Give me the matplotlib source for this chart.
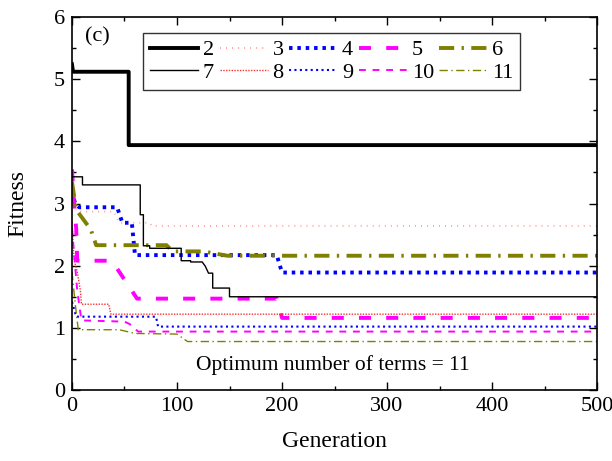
import matplotlib
matplotlib.use("Agg")
import matplotlib.pyplot as plt
from matplotlib.ticker import MultipleLocator

plt.rcParams['font.family'] = ['Liberation Serif', 'DejaVu Serif']
plt.rcParams['mathtext.fontset'] = 'stix'

labels = ['2', '3', '4', '5', '6', '7', '8', '9', '10', '11']

gen_2 = [0, 1, 54, 54, 500]
fit_2 = [5.24, 5.12, 5.12, 3.94, 3.94]

gen_3 = [0, 5, 40, 45, 74, 76, 500]
fit_3 = [3.3, 2.87, 2.87, 2.69, 2.69, 2.64, 2.64]

gen_4 = [0, 3, 7, 43, 48, 57, 60, 195, 200, 500]
fit_4 = [3.2, 3.0, 2.94, 2.94, 2.69, 2.69, 2.17, 2.17, 1.89, 1.89]

gen_5 = [0, 2, 4, 5, 38, 62, 195, 200, 500]
fit_5 = [3.55, 3.0, 2.6, 2.08, 2.08, 1.47, 1.47, 1.16, 1.16]

gen_6 = [0, 4, 18, 23, 90, 96, 125, 148, 500]
fit_6 = [3.35, 2.9, 2.58, 2.33, 2.33, 2.23, 2.23, 2.16, 2.16]

gen_7 = [0, 10, 10, 65, 65, 68, 68, 74, 74, 104, 104, 113, 113, 124, 127, 130, 134, 134, 150, 150, 500]
fit_7 = [3.43, 3.43, 3.30, 3.30, 2.82, 2.82, 2.32, 2.32, 2.28, 2.28, 2.08, 2.08, 2.06, 2.06, 1.99, 1.88, 1.88, 1.64, 1.64, 1.50, 1.50]

gen_8 = [0, 2, 5, 8, 9, 35, 37, 500]
fit_8 = [2.7, 2.1, 1.9, 1.6, 1.38, 1.38, 1.22, 1.22]

gen_9 = [0, 4, 80, 82, 500]
fit_9 = [1.42, 1.18, 1.18, 1.02, 1.02]

gen_10 = [0, 5, 9, 50, 55, 63, 500]
fit_10 = [2.6, 1.6, 1.12, 1.10, 1.06, 0.94, 0.94]

gen_11 = [0, 3, 6, 45, 60, 100, 110, 500]
fit_11 = [1.9, 1.4, 0.97, 0.97, 0.91, 0.90, 0.78, 0.78]

series = [
    (gen_2, fit_2, dict(color='black', lw=2.8, ls='-')),
    (gen_3, fit_3, dict(color='#ffa0a0', lw=1.4, ls=(0, (0.5, 2.6)))),
    (gen_4, fit_4, dict(color='#0000ff', lw=2.8, ls=(0, (0.9, 1.25)))),
    (gen_5, fit_5, dict(color='#ff00ff', lw=2.8, ls=(0, (3.1, 3.9)))),
    (gen_6, fit_6, dict(color='#808000', lw=2.8, ls=(0, (3.9, 1.9, 0.6, 1.9)))),
    (gen_7, fit_7, dict(color='black', lw=1.0, ls='-')),
    (gen_8, fit_8, dict(color='#ff3030', lw=1.0, ls=(0, (1, 1)))),
    (gen_9, fit_9, dict(color='#0000ff', lw=1.5, ls=(0, (1, 1.6)))),
    (gen_10, fit_10, dict(color='#ff00ff', lw=1.4, ls=(0, (3.5, 3.5)))),
    (gen_11, fit_11, dict(color='#808000', lw=1.0, ls=(0, (6, 2.5, 1, 2.5)))),
]

fig = plt.figure(figsize=(6.12, 4.61), dpi=100)
ax = fig.add_axes([0.1176, 0.154, 0.858, 0.809])

handles = []
for (g, f, st), lab in zip(series, labels):
    h, = ax.plot(g, f, label=lab, **st)
    handles.append(h)

ax.set_xlim(0, 500)
ax.set_ylim(0, 6)
ax.xaxis.set_major_locator(MultipleLocator(100))
ax.xaxis.set_minor_locator(MultipleLocator(50))
ax.yaxis.set_major_locator(MultipleLocator(1))
ax.yaxis.set_minor_locator(MultipleLocator(0.5))
ax.tick_params(which='both', direction='in', top=True, right=True, labelsize=16, width=1)
ax.tick_params(which='major', length=6, pad=5)
ax.tick_params(which='minor', length=3)
for s in ax.spines.values():
    s.set_linewidth(1.2)

ax.set_xlabel('Generation', fontsize=17)
ax.set_ylabel('Fitness', fontsize=17)
ax.xaxis.set_label_coords(0.5, -0.111)
ax.yaxis.set_label_coords(-0.083, 0.5)

order = [0, 5, 1, 6, 2, 7, 3, 8, 4, 9]
leg = ax.legend([handles[i] for i in order], [labels[i] for i in order],
                ncol=5, loc='upper left', bbox_to_anchor=(0.136, 0.957),
                borderaxespad=0.0,
                fontsize=16, frameon=True, fancybox=False, edgecolor='black',
                handlelength=2.16, handletextpad=0.22, columnspacing=0.25,
                labelspacing=0.1, borderpad=0.3)
leg.get_frame().set_linewidth(1.0)

ax.text(0.025, 0.946, '(c)', transform=ax.transAxes, fontsize=16, va='center', ha='left')
ax.text(248, 0.40, 'Optimum number of terms = 11', fontsize=15.5, ha='center', va='center')

fig.savefig('out.png', dpi=100)
